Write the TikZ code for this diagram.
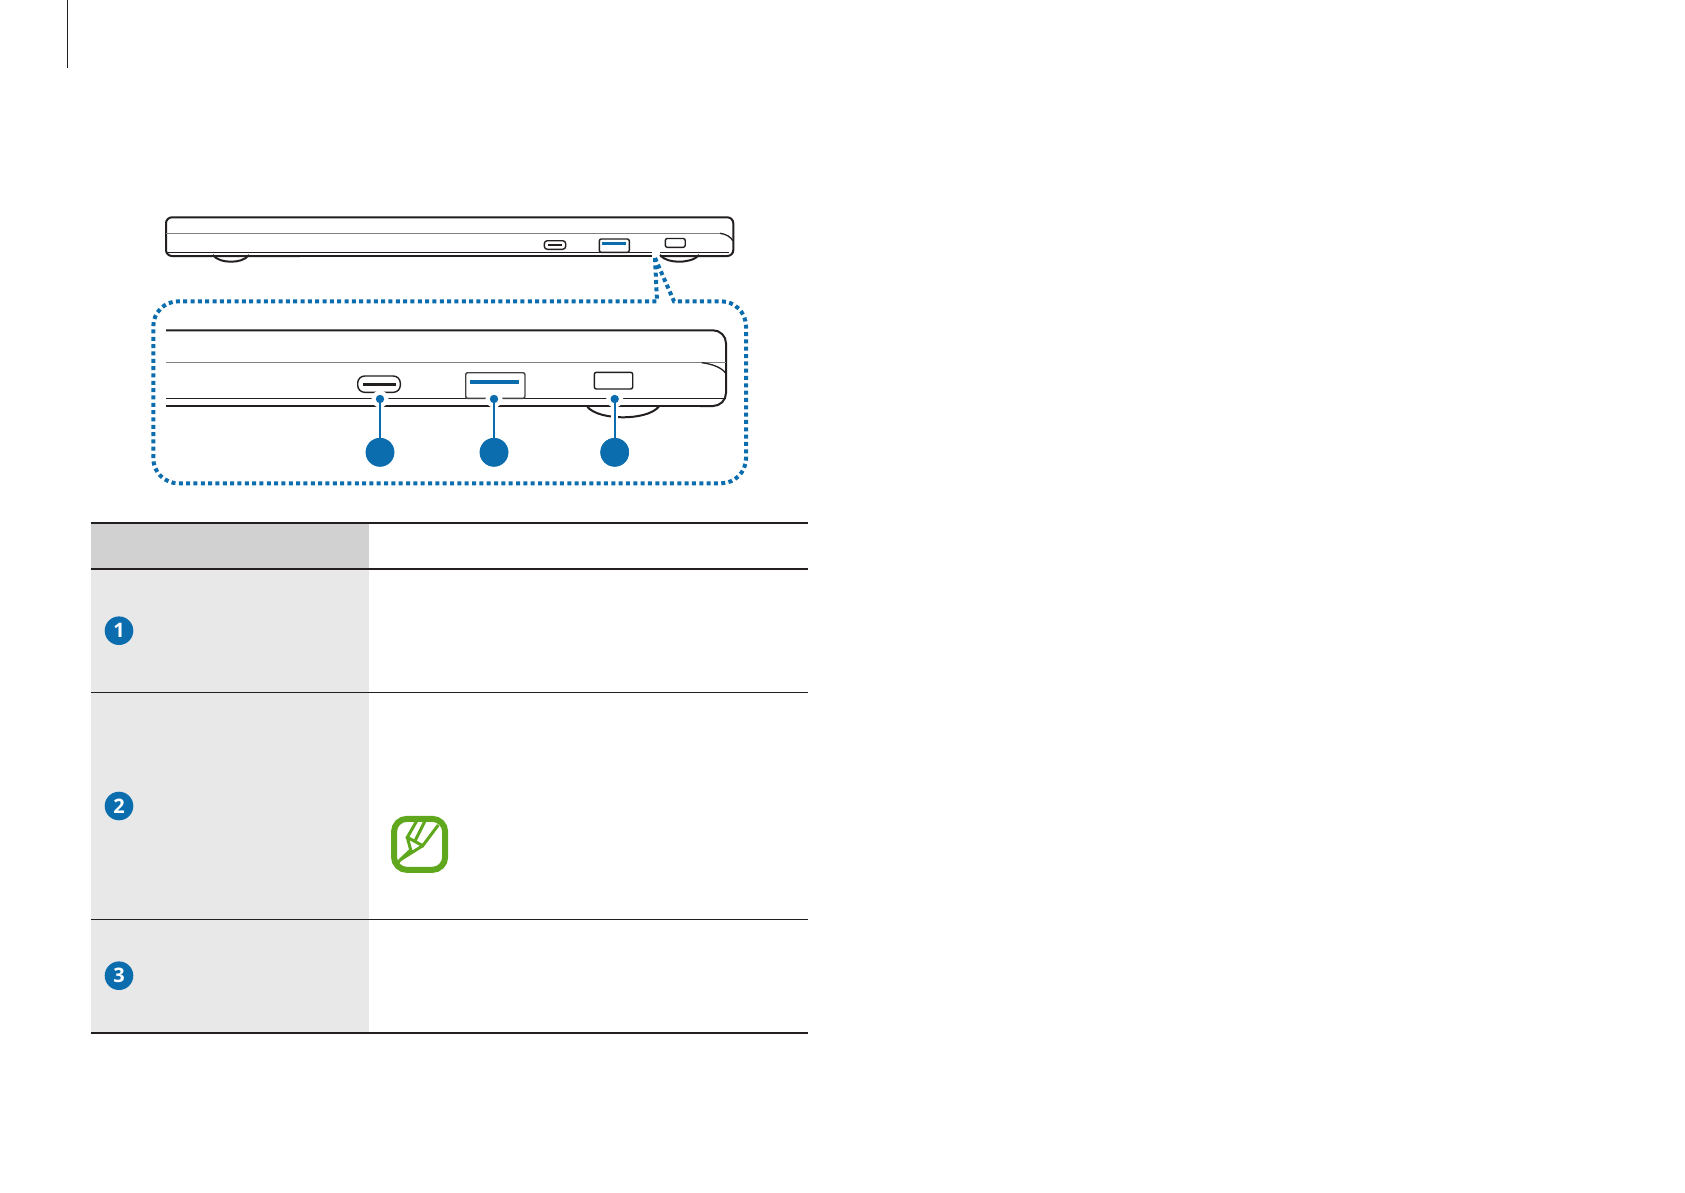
\documentclass[tikz,border=0pt]{standalone}
\usepackage{fontspec}
\setmainfont{Open Sans}
\definecolor{inkdark}{HTML}{231F20}
\definecolor{inkgray}{HTML}{808080}
\definecolor{callblue}{HTML}{0B6DAD}
\definecolor{headgray}{HTML}{D1D1D1}
\definecolor{rowgray}{HTML}{E8E8E8}
\definecolor{notegreen}{HTML}{5FA81E}
\tikzset{
	body/.style = {draw = inkdark, line width = 2pt},
	thickbody/.style = {draw = inkdark, line width = 2.8pt},
	thinbody/.style = {draw = inkdark, line width = 1.3pt},
	midline/.style = {draw = inkgray, line width = 1.5pt},
	port/.style = {draw = inkdark, line width = 1.4pt, fill = white, rounded corners = 2pt},
	halo/.style = {draw = white, line width = 7pt},
	leader/.style = {draw = callblue, line width = 2.4pt},
	bigdot/.style = {circle, fill = callblue, inner sep = 0pt, minimum size = 28.6pt},
	smalldot/.style = {circle, fill = callblue, inner sep = 0pt, minimum size = 8.4pt},
	haloring/.style = {circle, fill = white, inner sep = 0pt, minimum size = 17pt},
	numdot/.style = {circle, fill = callblue, text = white, inner sep = 0pt, minimum size = 28.6pt,
		font = \fontsize{20}{20}\selectfont\bfseries},
	zoomline/.style = {draw = callblue, line width = 4pt, dash pattern = on 4pt off 3.33pt},
	tablerule/.style = {draw = inkdark, line width = 2.2pt},
	rowrule/.style = {draw = inkdark, line width = 1.2pt},
	noteline/.style = {draw = notegreen, line width = 3pt},
}
\begin{document}
\begin{tikzpicture}[x = 1pt, y = -1pt]
	\useasboundingbox (0,0) rectangle (1685,1192);
	\draw[inkdark, line width = 1.6pt] (67.3,0) -- (67.3,68);

	\draw[body] (212.7,255) .. controls (217,260) and (224,261.7) .. (231,261.7) .. controls (238,261.7) and (245,260) .. (249,255);
	\draw[body] (660,255) .. controls (664,260) and (672,261.7) .. (679,261.7) .. controls (686,261.7) and (695,260) .. (699,255);
	\draw[body, rounded corners = 6pt] (300,217.3) -- (166,217.3) -- (166,256) -- (300,256);
	\draw[body, rounded corners = 6pt] (300,217.3) -- (733.3,217.3) -- (733.3,256) -- (660,256);
	\draw[thickbody] (172,256) -- (651.7,256);
	\draw[midline] (166,233.3) -- (720,233.3);
	\draw[thinbody] (166,252.3) -- (652,252.3);
	\draw[thinbody] (660,252.3) -- (729,252.3);
	\draw[inkdark, line width = 1.3pt] (720,233.3) .. controls (726,234) and (731,237) .. (733,241);
	\draw[port, rounded corners = 3pt] (544.3,240.7) rectangle (565.7,249.3);
	\draw[inkdark, line width = 2.2pt] (548,244.8) -- (561.7,244.8);
	\draw[port] (599.3,239) rectangle (629.3,252.3);
	\draw[callblue, line width = 3pt] (602.3,243.3) -- (626,243.3);
	\draw[port] (665.3,238.5) rectangle (685.2,247.3);

	\coordinate (ziptip) at (655,258);
	\coordinate (zipleft) at (657,301.3);
	\coordinate (zipright) at (674,301.3);
	\coordinate (boxtl) at (153.3,301.3);
	\coordinate (boxbl) at (153.3,483.3);
	\coordinate (boxbr) at (746,483.3);
	\coordinate (boxtr) at (746,301.3);
	\draw[zoomline] (ziptip) -- (zipleft) [rounded corners = 25pt] -- (boxtl) -- (boxbl) -- (boxbr) -- (boxtr) [sharp corners] -- (zipright) -- (ziptip);

	\draw[body] (586.7,406) .. controls (593,414.5) and (610,417.3) .. (623,417.3) .. controls (636,417.3) and (653,414.5) .. (659.3,406);
	\draw[body, rounded corners = 13pt] (166,330.3) -- (726,330.3) -- (726,406) -- (700,406);
	\draw[thickbody] (166,406) -- (712,406);
	\draw[midline] (166,362.7) -- (726,362.7);
	\draw[thinbody] (166,398.3) -- (726,398.3);
	\draw[thinbody] (701.7,362.7) .. controls (713,364) and (722,368) .. (725.5,373);
	\draw[port, rounded corners = 7pt] (357.7,376) rectangle (400.3,392.3);
	\draw[inkdark, line width = 3.6pt] (362.7,384.3) -- (396,384.3);
	\draw[port, draw = inkdark!85] (465.7,372.7) rectangle (525,398.3);
	\draw[callblue, line width = 4pt] (470,381.7) -- (519,381.7);
	\draw[port] (594.3,372.3) rectangle (632.7,389);

	\node[haloring] at (380,399) {};
	\node[haloring] at (494,399) {};
	\node[haloring] at (614.7,399) {};
	\node[smalldot] (dotone) at (380,399) {};
	\node[smalldot] (dottwo) at (494,399) {};
	\node[smalldot] (dotthree) at (614.7,399) {};
	\node[bigdot] (callone) at (380,452.3) {};
	\node[bigdot] (calltwo) at (494,452.3) {};
	\node[bigdot] (callthree) at (614.7,452.3) {};
	\draw[halo] (dotone) -- (callone);
	\draw[halo] (dottwo) -- (calltwo);
	\draw[halo] (dotthree) -- (callthree);
	\draw[leader] (dotone) -- (callone);
	\draw[leader] (dottwo) -- (calltwo);
	\draw[leader] (dotthree) -- (callthree);
	\node[bigdot] at (callone) {};
	\node[bigdot] at (calltwo) {};
	\node[bigdot] at (callthree) {};

	\fill[headgray] (91,523) rectangle (368.7,568.7);
	\fill[rowgray] (91,568.7) rectangle (368.7,1032.7);
	\draw[tablerule] (91,523) -- (808,523);
	\draw[tablerule] (91,568.7) -- (808,568.7);
	\draw[rowrule] (91,692.3) -- (808,692.3);
	\draw[rowrule] (91,919.3) -- (808,919.3);
	\draw[tablerule] (91,1032.7) -- (808,1032.7);
	\node[numdot] (numone) at (119,630.7) {1};
	\node[numdot] (numtwo) at (119,806) {2};
	\node[numdot] (numthree) at (119,975.7) {3};

	\draw[noteline, line width = 6pt, rounded corners = 13pt] (394,818.8) rectangle (445.2,869.9);
	\draw[noteline] (416.7,821) -- (407.3,837.3) -- (422.7,845.7) -- (438.3,825);
	\draw[noteline] (425,821) -- (415,841);
	\draw[noteline] (407.3,837.3) -- (410.7,850) -- (400,860) -- (422.7,845.7);
	\draw[noteline] (400,860) -- (397,864);
\end{tikzpicture}
\end{document}
